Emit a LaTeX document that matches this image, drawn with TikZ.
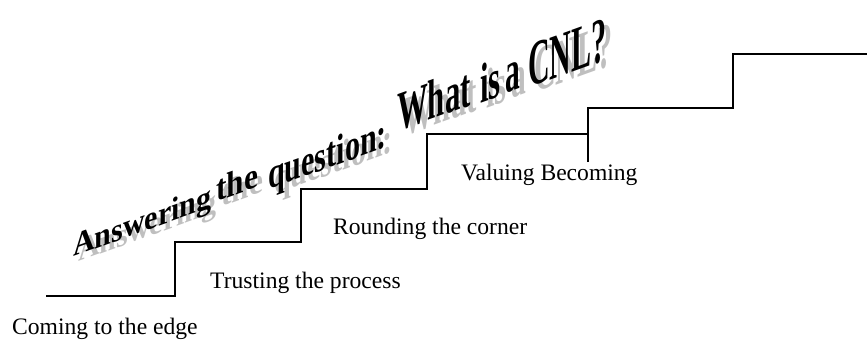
\documentclass[tikz,border=0pt]{standalone}
\usepackage{fontspec}
\setmainfont{Liberation Serif}
\begin{document}
\begin{tikzpicture}[x=1pt,y=-1pt,
	stage/.style={anchor=base west,inner sep=0pt,font=\fontsize{23.6}{28}\selectfont},
	title/.style={anchor=base west,inner sep=0pt,yslant=0.36,font=\bfseries\fontsize{#1}{#1}\selectfont},
	shadow/.style={text=gray!50}]
	\useasboundingbox (0,0) rectangle (867,349);
	% les marches
	\draw[line width=1.3pt] (46,296) -- (175,296) -- (175,242) -- (301,242) -- (301,189)
		-- (427,189) -- (427,134) -- (588,134);
	\draw[line width=1.3pt] (588,162) -- (588,108) -- (733,108) -- (733,54) -- (867,54);
	% les etapes
	\node[stage] (edge) at (12,334) {Coming to the edge};
	\node[stage] (trust) at (210,288) {Trusting the process};
	\node[stage] (corner) at (333,234) {Rounding the corner};
	\node[stage] (becoming) at (461,180) {Valuing Becoming};
	% le titre (ombre)
	\node[title=33,shadow,xscale=0.91] (answeringS) at (78,262) {Answering};
	\node[title=36,shadow,xscale=0.87] (theS) at (221,207) {the};
	\node[title=43,shadow,xscale=0.7] (questionS) at (274,195) {question:};
	\node[title=56,shadow,xscale=0.55] (whatS) at (403,137) {What};
	\node[title=56,shadow,xscale=0.55] (isS) at (486,109) {is};
	\node[title=59,shadow,xscale=0.5] (aS) at (511,99) {a};
	\node[title=64,shadow,xscale=0.47] (cnlS) at (534,93) {CNL?};
	% le titre
	\node[title=33,xscale=0.91] (answering) at (73,257) {Answering};
	\node[title=36,xscale=0.87] (the) at (216,202) {the};
	\node[title=43,xscale=0.7] (question) at (268,190) {question:};
	\node[title=56,xscale=0.55] (what) at (397,132) {What};
	\node[title=56,xscale=0.55] (is) at (480,104) {is};
	\node[title=59,xscale=0.5] (a) at (505,94) {a};
	\node[title=64,xscale=0.47] (cnl) at (528,88) {CNL?};
\end{tikzpicture}
\end{document}
